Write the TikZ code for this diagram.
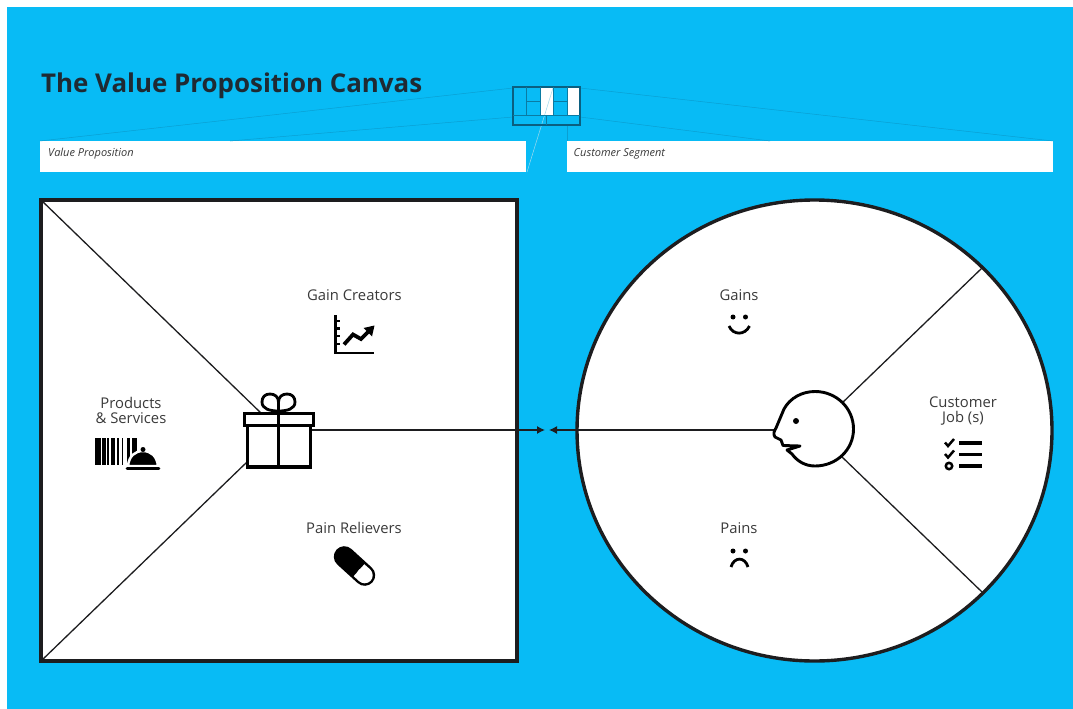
\documentclass[tikz,border=0pt]{standalone}
\usepackage{fontspec}
\setmainfont{Open Sans}
\usetikzlibrary{arrows.meta,shapes.geometric}
\definecolor{bgblue}{HTML}{08BBF5}
\definecolor{ink}{HTML}{1D1D1F}
\definecolor{thin}{HTML}{0A9FD2}
\definecolor{mini}{HTML}{0B5F80}
\definecolor{txt}{HTML}{3A3A3A}
\definecolor{title}{HTML}{1F2A33}
\tikzset{
  lbl/.style={font=\fontsize{14.8}{15}\selectfont,text=txt,inner sep=0pt,align=center},
  capt/.style={font=\fontsize{11}{12}\selectfont\itshape,text=txt,inner sep=0pt,anchor=west},
  field/.style={fill=white,draw=none},
  heavy/.style={draw=ink,line width=3.6pt},
  ray/.style={draw=ink,line width=1.3pt},
  link/.style={draw=ink,line width=1.3pt,-{Latex[length=8pt,width=8pt]}},
  faint/.style={draw=thin,line width=0.5pt},
  minil/.style={draw=mini,line width=1.3pt},
  minis/.style={draw=mini!70!bgblue,line width=0.7pt},
  icon/.style={draw=black,line width=3.2pt},
}
\begin{document}
\begin{tikzpicture}[x=1pt,y=-1pt]
\useasboundingbox (0,0) rectangle (1073,709);
\fill[white] (0,0) rectangle (1073,709);
\fill[bgblue] (7,7) rectangle (1073,709);
\node[anchor=west,inner sep=0pt,text=title,font=\fontsize{25.9}{28}\selectfont\bfseries] (ttl) at (41,85.5) {The Value Proposition Canvas};
% fields
\path[field] (40,141) rectangle (526,172);
\path[field] (567,141) rectangle (1053,172);
\node[capt] (vp) at (48,154) {Value Proposition};
\node[capt] (cs) at (573.5,154) {Customer Segment};
% thin guide lines
\coordinate (mTL) at (513,88);
\coordinate (mTR) at (580,88);
\coordinate (mBL) at (513,117);
\coordinate (mBR) at (580,117);
\coordinate (fA) at (40,141);
\coordinate (fB) at (230,141);
\coordinate (fC) at (1053,141);
\coordinate (fD) at (770,141);
\coordinate (mS) at (553,88);
\coordinate (fE) at (527,172);
\coordinate (mU) at (567,125);
\coordinate (fF) at (567,141);
\draw[faint] (mTL) -- (fA);
\draw[faint] (mBL) -- (fB);
\draw[faint] (mTR) -- (fC);
\draw[faint] (mBR) -- (fD);
\draw[faint] (mU) -- (fF);
% mini canvas
\fill[white] (540,87) rectangle (553,115);
\fill[white] (567,87) rectangle (580,115);
\draw[faint,draw=thin!40!white] (mS) -- (fE);
\draw[minil] (513,87) rectangle (580,125);
\draw[minis] (513,115) -- (580,115);
\draw[minis] (526,87) -- (526,115);
\draw[minis] (540,87) -- (540,115);
\draw[minis] (553,87) -- (553,115);
\draw[minis] (567,87) -- (567,115);
\draw[minis] (526,101) -- (540,101);
\draw[minis] (553,101) -- (567,101);
\draw[minis] (546,115) -- (546,125);
% main shapes
\path[fill=white] (41,200) rectangle (517,661);
\node[ellipse,fill=white,draw=ink,line width=3.4pt,minimum width=475pt,minimum height=461pt,inner sep=0pt] (cust) at (814.5,430.5) {};
\draw[heavy] (41,200) rectangle (517,661);
% connector ends
\coordinate (sqTL) at (41,200);
\coordinate (sqBL) at (41,661);
\coordinate (giftA) at (262,414);
\coordinate (giftB) at (247,462);
\coordinate (giftR) at (311,430);
\coordinate (faceL) at (775,430);
\coordinate (faceU) at (841,404);
\coordinate (faceD) at (841,456);
\coordinate (rimU) at (982,268);
\coordinate (rimD) at (982,592);
\coordinate (midL) at (545,430);
\coordinate (midR) at (549,430);
\draw[ray] (sqTL) -- (giftA);
\draw[ray] (sqBL) -- (giftB);
\draw[ray] (faceU) -- (rimU);
\draw[ray] (faceD) -- (rimD);
\draw[link] (giftR) -- (midL);
\draw[link] (faceL) -- (midR);
% gift
\draw[icon,line width=2.8pt] (278.5,411) .. controls (270,411) and (262,409) .. (262,402) .. controls (262,397) and (265,394) .. (270,394) .. controls (275,394) and (278.5,397) .. (278.5,402) -- (278.5,411);
\draw[icon,line width=2.8pt] (278.5,411) .. controls (287,411) and (295,409) .. (295,402) .. controls (295,397) and (292,394) .. (287,394) .. controls (282,394) and (278.5,397) .. (278.5,402) -- (278.5,411);
\fill[white] (243.5,413) rectangle (314,425.5);
\draw[icon] (244.5,413.5) rectangle (313.5,425.5);
\draw[icon] (247.5,425.5) rectangle (310.5,467);
\draw[icon] (278.5,411) -- (278.5,467);
% face
\draw[icon,line join=round,line width=2.9pt,fill=white] (815,391.5)
  .. controls (836.5,391.5) and (853.5,408.3) .. (853.5,429)
  .. controls (853.5,449.7) and (836.5,466) .. (815,466)
  .. controls (805,466) and (797,461) .. (792,454)
  -- (787,450) -- (800,446) -- (783,445.5) -- (781,440) -- (775,437)
  .. controls (773,434) and (774,431) .. (776,428)
  -- (784,409) .. controls (790,398) and (802,391.5) .. (815,391.5) -- cycle;
\fill[black] (796,421) circle (3);
% products icon
\foreach \a/\b in {95/100.5,102/105.5,107/109,111/115,117/119,121.5/123,126.5/130,132/137}
  \fill[black] (\a,438) rectangle (\b,465);
\path[fill=black,draw=white,line width=2.5pt] (128,466) .. controls (129,456) and (135,451) .. (143,451) .. controls (151,451) and (157,456) .. (158,466) -- cycle;
\fill[black] (143,449.5) circle (2.5);
\draw[icon,line width=2.8pt,line cap=round] (127,468.5) -- (159,468.5);
\node[lbl] (ps) at (131,410.5) {Products\\[0pt]\&\ Services};
% chart
\node[lbl] (gc) at (354.5,295) {Gain Creators};
\draw[icon,line width=2.8pt] (335.5,315) -- (335.5,353) -- (373.5,353);
\foreach \y in {321,328.5,336,344} \draw[icon,line width=2.2pt] (335.5,\y) -- (339.5,\y);
\draw[icon,line width=3.8pt] (344,344.5) -- (353,334.5) -- (361,339) -- (369,331);
\fill[black] (374.5,325.5) -- (363.5,328) -- (372,336.5) -- cycle;
% pill
\node[lbl] (pr) at (354,528) {Pain Relievers};
\coordinate (pillA) at (344.3,556.7);
\coordinate (pillB) at (364.7,575.3);
\coordinate (pillM) at (359,570.2);
\draw[black,line width=21pt,line cap=round] (pillA) -- (pillB);
\draw[white,line width=16pt] (pillM) -- (pillB);
\fill[white] (pillB) circle (8);
% gains/pains
\node[lbl] (ga) at (739,295) {Gains};
\fill[black] (733,317) circle (2.5) (745.5,317) circle (2.5);
\draw[icon,line width=2.8pt] (729,326) .. controls (733,335.5) and (745,335.5) .. (749.5,326);
\node[lbl] (pa) at (739,528) {Pains};
\fill[black] (733,551) circle (2.5) (745.5,551) circle (2.5);
\draw[icon,line width=2.8pt] (731,567) .. controls (734,556.5) and (745,556.5) .. (748,567);
% jobs
\node[lbl] (cj) at (963,411.5) {Customer\\[0pt]Job (s)};
\foreach \y in {443,454.5,466} \draw[icon,line width=3.2pt] (959,\y) -- (982,\y);
\draw[icon,line width=2.5pt] (945,442.5) -- (948,446) -- (954,439);
\draw[icon,line width=2.5pt] (945,454) -- (948,457.5) -- (954,450.5);
\draw[icon,line width=2.5pt] (949,466) circle (3.2);
\end{tikzpicture}
\end{document}
